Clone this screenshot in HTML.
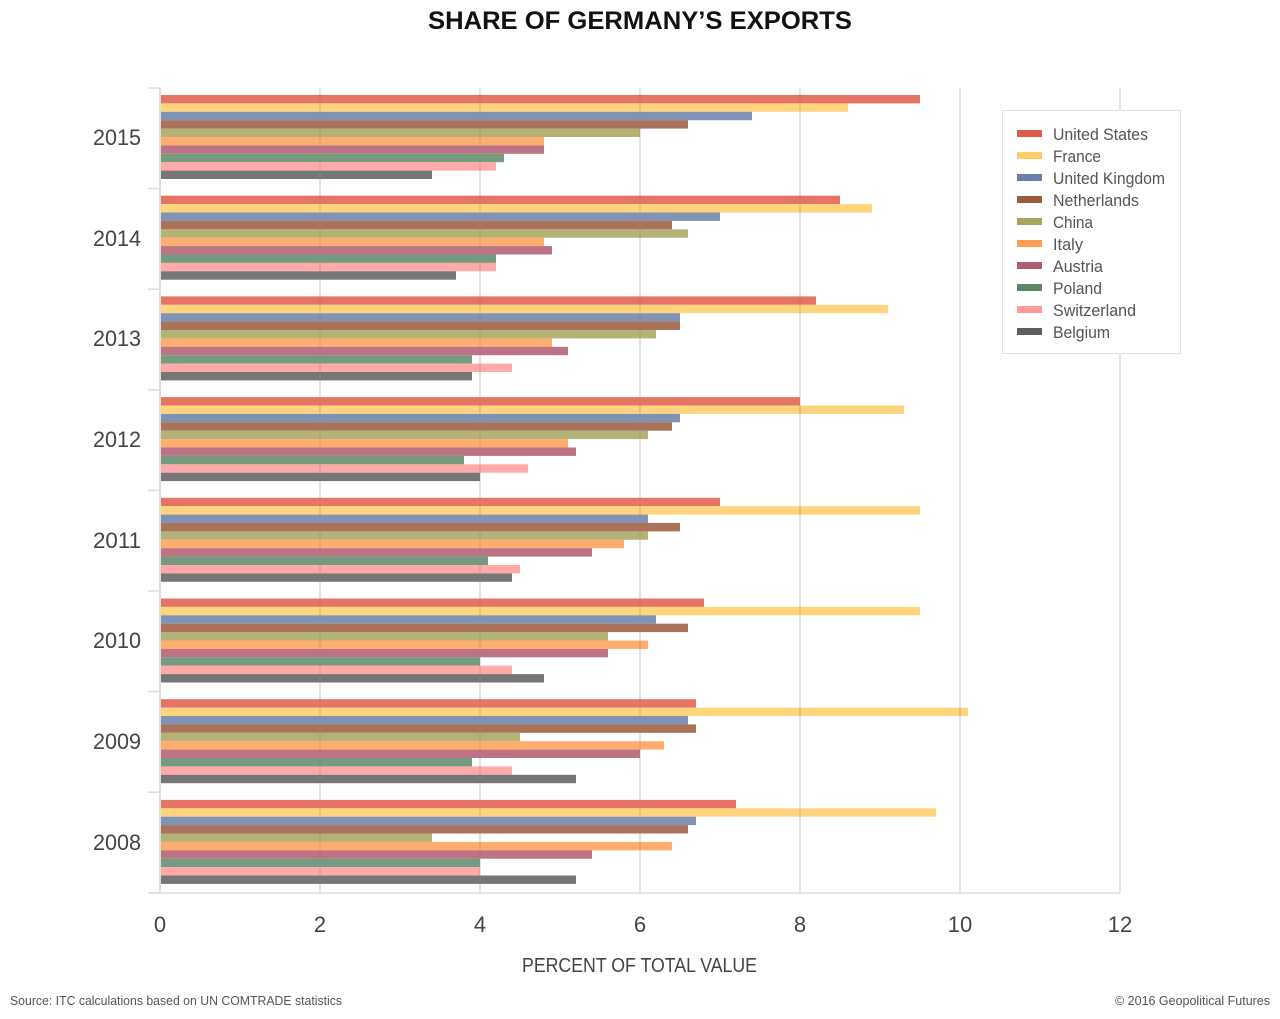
<!DOCTYPE html>
<html><head><meta charset="utf-8"><style>
body{margin:0;background:#fff;width:1280px;height:1014px;overflow:hidden;font-family:"Liberation Sans",sans-serif}
</style></head><body>
<svg id="s" width="1280" height="1014" xmlns="http://www.w3.org/2000/svg" font-family="Liberation Sans, sans-serif">
<text x="428" y="29" textLength="424" lengthAdjust="spacingAndGlyphs" font-size="25" font-weight="bold" fill="#111">SHARE OF GERMANY’S EXPORTS</text>
<g id="bars"></g>
<g id="grid" stroke="#888" stroke-opacity="0.3" stroke-width="1.5"></g>
<line x1="160" y1="88" x2="160" y2="893" stroke="#ddd" stroke-width="2"/>
<line x1="148" y1="893" x2="1120" y2="893" stroke="#ddd" stroke-width="1.5"/>
<g id="ticks" stroke="#ddd" stroke-width="1.5"></g>
<g font-size="22" fill="#444" text-anchor="end">
<text x="141" y="145" textLength="48" lengthAdjust="spacingAndGlyphs">2015</text><text x="141" y="246" textLength="48" lengthAdjust="spacingAndGlyphs">2014</text><text x="141" y="346" textLength="48" lengthAdjust="spacingAndGlyphs">2013</text><text x="141" y="447" textLength="48" lengthAdjust="spacingAndGlyphs">2012</text><text x="141" y="548" textLength="48" lengthAdjust="spacingAndGlyphs">2011</text><text x="141" y="648" textLength="48" lengthAdjust="spacingAndGlyphs">2010</text><text x="141" y="749" textLength="48" lengthAdjust="spacingAndGlyphs">2009</text><text x="141" y="850" textLength="48" lengthAdjust="spacingAndGlyphs">2008</text>
</g>
<g font-size="22" fill="#444" text-anchor="middle">
<text x="160" y="932">0</text><text x="320" y="932">2</text><text x="480" y="932">4</text><text x="640" y="932">6</text><text x="800" y="932">8</text><text x="960" y="932">10</text><text x="1120" y="932">12</text>
</g>
<text x="522" y="972" textLength="235" lengthAdjust="spacingAndGlyphs" font-size="20" fill="#444">PERCENT OF TOTAL VALUE</text>
<text x="10" y="1005" textLength="332" lengthAdjust="spacingAndGlyphs" font-size="13" fill="#555">Source:  ITC calculations based on UN COMTRADE statistics</text>
<text x="1115" y="1005" textLength="155" lengthAdjust="spacingAndGlyphs" font-size="13" fill="#555">© 2016 Geopolitical Futures</text>
<rect x="1002.5" y="110.5" width="178" height="243" fill="#fff" stroke="#e4e4e4"/>
<g id="leg" font-size="17" fill="#555"></g>
</svg>
<script>
var C=["#e05c4a","#ffcc66","#6a80a8","#9b5a3c","#a8a460","#ff9f55","#b05c70","#5c8a68","#ff9a9a","#5e5e5e"];
var N=["United States","France","United Kingdom","Netherlands","China","Italy","Austria","Poland","Switzerland","Belgium"];
var W=[95,48,112,86,40,30,50,49,83,57];
var D=[[9.5,8.6,7.4,6.6,6.0,4.8,4.8,4.3,4.2,3.4],[8.5,8.9,7.0,6.4,6.6,4.8,4.9,4.2,4.2,3.7],[8.2,9.1,6.5,6.5,6.2,4.9,5.1,3.9,4.4,3.9],[8.0,9.3,6.5,6.4,6.1,5.1,5.2,3.8,4.6,4.0],[7.0,9.5,6.1,6.5,6.1,5.8,5.4,4.1,4.5,4.4],[6.8,9.5,6.2,6.6,5.6,6.1,5.6,4.0,4.4,4.8],[6.7,10.1,6.6,6.7,4.5,6.3,6.0,3.9,4.4,5.2],[7.2,9.7,6.7,6.6,3.4,6.4,5.4,4.0,4.0,5.2]];
var b=document.getElementById("bars"),h="";
D.forEach(function(r,g){r.forEach(function(v,i){var y=95+g*100.7+i*8.4;h+='<rect x="160" y="'+y.toFixed(1)+'" width="'+(v*80)+'" height="8.4" fill="'+C[i]+'" fill-opacity="0.85"/>';});});
b.innerHTML=h;
var gh="";for(var k=1;k<=6;k++){gh+='<line x1="'+(160+k*160)+'" y1="88" x2="'+(160+k*160)+'" y2="893"/>';}
document.getElementById("grid").innerHTML=gh;
var th="";for(var t=0;t<=8;t++){var y=88+t*100.6;th+='<line x1="148" y1="'+y+'" x2="160" y2="'+y+'"/>';}
document.getElementById("ticks").innerHTML=th;
var lh="";N.forEach(function(n,i){var y=134+i*22;lh+='<rect x="1017" y="'+(y-4)+'" width="25" height="7" fill="'+C[i]+'"/><text x="1053" y="'+(y+6)+'" textLength="'+W[i]+'" lengthAdjust="spacingAndGlyphs">'+n+'</text>';});
document.getElementById("leg").innerHTML=lh;
</script>
</body></html>
